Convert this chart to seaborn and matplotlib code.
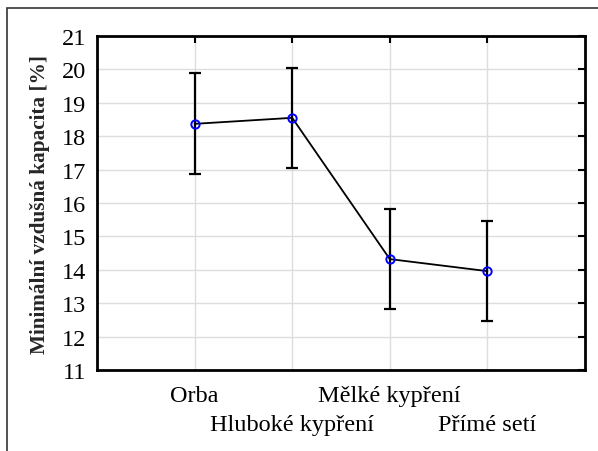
import matplotlib
matplotlib.use("Agg")
import matplotlib.pyplot as plt
import seaborn as sns
import numpy as np
from matplotlib.patches import Rectangle

categories = ["Orba", "Hluboké kypření", "Mělké kypření", "Přímé setí"]
means = [18.37, 18.55, 14.32, 13.96]
errors = [1.51, 1.50, 1.50, 1.50]
yticks = [11, 12, 13, 14, 15, 16, 17, 18, 19, 20, 21]

sns.set_theme(style="white")
plt.rcParams['font.family'] = ['Liberation Serif', 'DejaVu Serif']

fig = plt.figure(figsize=(5.98, 4.52), dpi=100)
ax = fig.add_axes([97/598, 1-371/452, (585-97)/598, (371-37)/452])

# outer frame
fig.patches.append(Rectangle((7/598, -0.1), 1.2, 1 - 9/452 + 0.1, transform=fig.transFigure,
                             fill=False, edgecolor='#333333', linewidth=1.2, zorder=0))

sns.pointplot(x=categories, y=means, color='black', markers='o', linewidth=1.3,
              markersize=6, errorbar=None, ax=ax)
for ln in ax.lines:
    ln.set_markerfacecolor('none')
    ln.set_markeredgecolor('#0000ff')
    ln.set_markeredgewidth(1.4)
    ln.set_zorder(4)
ax.errorbar(np.arange(len(categories)), means, yerr=errors, fmt='none', ecolor='black',
            elinewidth=1.6, capsize=4, capthick=1.6, zorder=3)

ax.set_xlim(-1, 4)
ax.set_ylim(11, 21)
ax.set_yticks(yticks)
ax.set_yticklabels([str(t) for t in yticks], fontsize=17.5)

pos = np.arange(len(categories))
ax.set_xticks(pos[0::2])
ax.set_xticklabels(categories[0::2], fontsize=17.5)
ax.set_xticks(pos[1::2], minor=True)
ax.set_xticklabels(categories[1::2], minor=True, fontsize=17.5)

ax.tick_params(which='both', direction='in', length=5, width=1.5, top=True, right=True,
               colors='black')
ax.tick_params(axis='y', pad=8)
ax.tick_params(axis='x', which='major', pad=11)
ax.tick_params(axis='x', which='minor', pad=32)
ax.grid(True, which='both', color='#dddddd', linewidth=1)
ax.set_axisbelow(True)
for s in ax.spines.values():
    s.set_color('black')
    s.set_linewidth(2)
ax.set_ylabel("Minimální vzdušná kapacita [%]", fontsize=15.3, fontweight='bold', labelpad=8)
ax.set_xlabel("")

fig.savefig("out.png", dpi=100)
